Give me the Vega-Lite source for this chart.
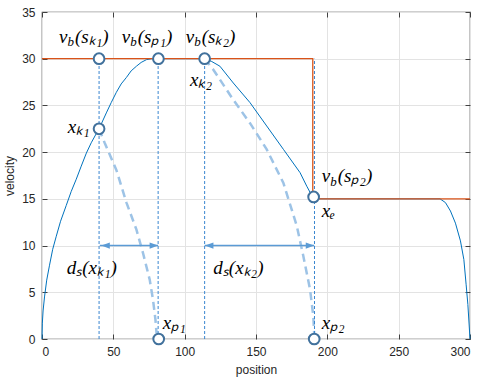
{
  "$schema": "https://vega.github.io/schema/vega-lite/v6.json",
  "autosize": "none",
  "width": 428,
  "height": 327,
  "padding": {"left": 42, "top": 12, "right": 17, "bottom": 44},
  "background": "white",
  "config": {
    "view": {"stroke": "#404040", "strokeWidth": 1.2},
    "axis": {
      "labelFont": "Liberation Sans", "labelFontSize": 12, "labelColor": "#262626",
      "titleFont": "Liberation Sans", "titleFontSize": 12, "titleFontWeight": "normal", "titleColor": "#262626",
      "tickColor": "#404040", "tickSize": -5, "domain": false,
      "gridColor": "#e3e3e3", "gridWidth": 1
    }
  },
  "datasets": {
    "curve": [
      {"i": 0, "x": 0, "v": 0}, {"i": 1, "x": 0.25, "v": 1.7}, {"i": 2, "x": 0.75, "v": 3.0},
      {"i": 3, "x": 1.76, "v": 4.5}, {"i": 4, "x": 3.3, "v": 6.3}, {"i": 5, "x": 5.27, "v": 7.9},
      {"i": 6, "x": 7.5, "v": 9.6}, {"i": 7, "x": 10, "v": 11.0}, {"i": 8, "x": 13, "v": 12.6},
      {"i": 9, "x": 17, "v": 14.3}, {"i": 10, "x": 20.5, "v": 15.8}, {"i": 11, "x": 24, "v": 17.1},
      {"i": 12, "x": 27.5, "v": 18.5}, {"i": 13, "x": 31.1, "v": 19.9}, {"i": 14, "x": 34.5, "v": 21.0},
      {"i": 15, "x": 38.1, "v": 22.0}, {"i": 16, "x": 41.5, "v": 23.0}, {"i": 17, "x": 45.1, "v": 24.2},
      {"i": 18, "x": 48.5, "v": 25.3}, {"i": 19, "x": 52.1, "v": 26.4}, {"i": 20, "x": 55.5, "v": 27.3},
      {"i": 21, "x": 59.2, "v": 28.0}, {"i": 22, "x": 62.5, "v": 28.7}, {"i": 23, "x": 66.2, "v": 29.2},
      {"i": 24, "x": 69.5, "v": 29.6}, {"i": 25, "x": 73.2, "v": 29.9}, {"i": 26, "x": 77, "v": 30.0},
      {"i": 27, "x": 80.2, "v": 30.0}, {"i": 28, "x": 114, "v": 30.0}, {"i": 29, "x": 119, "v": 29.7},
      {"i": 30, "x": 124.7, "v": 29.2}, {"i": 31, "x": 134.1, "v": 27.4}, {"i": 32, "x": 145.8, "v": 25.3},
      {"i": 33, "x": 157.5, "v": 22.8}, {"i": 34, "x": 169.2, "v": 20.3}, {"i": 35, "x": 180.9, "v": 17.8},
      {"i": 36, "x": 185.6, "v": 16.35}, {"i": 37, "x": 189.3, "v": 15.3}, {"i": 38, "x": 190.4, "v": 15.0},
      {"i": 39, "x": 279, "v": 15.0}, {"i": 40, "x": 282.8, "v": 14.6}, {"i": 41, "x": 286.3, "v": 13.7},
      {"i": 42, "x": 289.8, "v": 12.4}, {"i": 43, "x": 293.3, "v": 10.5}, {"i": 44, "x": 295.7, "v": 8.5},
      {"i": 45, "x": 297.3, "v": 5.8}, {"i": 46, "x": 298.5, "v": 3.7}, {"i": 47, "x": 299.4, "v": 1.5},
      {"i": 48, "x": 300, "v": 0}
    ],
    "limit": [
      {"i": 0, "x": 0, "v": 30}, {"i": 1, "x": 189.8, "v": 30},
      {"i": 2, "x": 189.8, "v": 15}, {"i": 3, "x": 300, "v": 15}
    ],
    "brake": [
      {"seg": "a", "i": 0, "x": 40, "v": 22.5}, {"seg": "a", "i": 1, "x": 43.9, "v": 21.0},
      {"seg": "a", "i": 2, "x": 52.1, "v": 18.1}, {"seg": "a", "i": 3, "x": 59.2, "v": 14.6},
      {"seg": "a", "i": 4, "x": 66.2, "v": 11.7}, {"seg": "a", "i": 5, "x": 70.8, "v": 9.2},
      {"seg": "a", "i": 6, "x": 75.5, "v": 6.35}, {"seg": "a", "i": 7, "x": 77.8, "v": 4.2},
      {"seg": "a", "i": 8, "x": 79.5, "v": 2.1}, {"seg": "a", "i": 9, "x": 80.3, "v": 0.6},
      {"seg": "b", "i": 0, "x": 114, "v": 30}, {"seg": "b", "i": 1, "x": 120, "v": 28.85},
      {"seg": "b", "i": 2, "x": 134.1, "v": 25.6}, {"seg": "b", "i": 3, "x": 145.8, "v": 23.1},
      {"seg": "b", "i": 4, "x": 157.5, "v": 20.3}, {"seg": "b", "i": 5, "x": 169.2, "v": 16.7},
      {"seg": "b", "i": 6, "x": 178.6, "v": 12.1}, {"seg": "b", "i": 7, "x": 183.2, "v": 8.85},
      {"seg": "b", "i": 8, "x": 187.9, "v": 5.3}, {"seg": "b", "i": 9, "x": 190.2, "v": 2.4},
      {"seg": "b", "i": 10, "x": 190.8, "v": 0.5}
    ],
    "vlines": [
      {"x": 40, "v": 0, "v2": 30}, {"x": 81.4, "v": 0, "v2": 30},
      {"x": 114, "v": 0, "v2": 30}, {"x": 191, "v": 0, "v2": 30}
    ],
    "arrows": [
      {"x": 40.5, "x2": 81.4, "v": 10}, {"x": 114, "x2": 190.8, "v": 10}
    ],
    "heads": [
      {"x": 41.6, "v": 10, "dir": "left"}, {"x": 81.4, "v": 10, "dir": "right"},
      {"x": 114.2, "v": 10, "dir": "left"}, {"x": 190.8, "v": 10, "dir": "right"}
    ],
    "circles": [
      {"x": 40, "v": 30}, {"x": 81.6, "v": 30}, {"x": 114, "v": 30}, {"x": 40, "v": 22.5},
      {"x": 190.4, "v": 15.2}, {"x": 81.8, "v": 0}, {"x": 190.8, "v": 0}
    ],
    "vb": [
      {"x": 11.9, "v": 31.7, "rest": "(sₖ₁)"},
      {"x": 55.9, "v": 31.7, "rest": "(sₚ₁)"},
      {"x": 100.7, "v": 31.7, "rest": "(sₖ₂)"},
      {"x": 196.0, "v": 16.8, "rest": "(sₚ₂)"}
    ],
    "math": [
      {"x": 103.7, "v": 27.1, "t": "xₖ₂"},
      {"x": 18.0, "v": 22.1, "t": "xₖ₁"},
      {"x": 196.0, "v": 13.1, "t": "xₑ"},
      {"x": 17.3, "v": 7.0, "t": "dₛ(xₖ₁)"},
      {"x": 120.1, "v": 7.0, "t": "dₛ(xₖ₂)"},
      {"x": 84.6, "v": 1.04, "t": "xₚ₁"},
      {"x": 196.0, "v": 1.04, "t": "xₚ₂"}
    ]
  },
  "layer": [
    {
      "data": {"name": "curve"},
      "mark": {"type": "line", "color": "#0072BD", "strokeWidth": 1},
      "encoding": {
        "x": {"field": "x", "type": "quantitative", "scale": {"domain": [0, 300], "nice": false},
              "axis": {"orient": "bottom", "title": "position", "values": [0, 50, 100, 150, 200, 250, 300], "grid": true, "labelPadding": 12, "titlePadding": 7}},
        "y": {"field": "v", "type": "quantitative", "scale": {"domain": [0, 35], "nice": false},
              "axis": {"orient": "left", "title": "velocity", "values": [0, 5, 10, 15, 20, 25, 30, 35], "grid": true, "labelPadding": 12, "titlePadding": 5}},
        "order": {"field": "i", "type": "quantitative"}
      }
    },
    {
      "data": {"name": "limit"},
      "mark": {"type": "line", "color": "#D95319", "strokeWidth": 1.3},
      "encoding": {
        "x": {"field": "x", "type": "quantitative",
              "axis": {"orient": "top", "title": null, "labels": false, "grid": false, "values": [0, 50, 100, 150, 200, 250, 300]}},
        "y": {"field": "v", "type": "quantitative",
              "axis": {"orient": "right", "title": null, "labels": false, "grid": false, "values": [0, 5, 10, 15, 20, 25, 30, 35]}},
        "order": {"field": "i", "type": "quantitative"}
      }
    },
    {
      "data": {"name": "brake"},
      "mark": {"type": "line", "color": "#9DC3E6", "strokeWidth": 2.5, "strokeDash": [8, 5]},
      "encoding": {
        "x": {"field": "x", "type": "quantitative", "axis": null},
        "y": {"field": "v", "type": "quantitative", "axis": null},
        "detail": {"field": "seg"},
        "order": {"field": "i", "type": "quantitative"}
      }
    },
    {
      "data": {"name": "vlines"},
      "mark": {"type": "rule", "color": "#3A86D0", "strokeWidth": 1, "strokeDash": [3, 2]},
      "encoding": {
        "x": {"field": "x", "type": "quantitative", "axis": null},
        "y": {"field": "v", "type": "quantitative", "axis": null},
        "y2": {"field": "v2"}
      }
    },
    {
      "data": {"name": "arrows"},
      "mark": {"type": "rule", "color": "#5B9BD5", "strokeWidth": 1.5},
      "encoding": {
        "x": {"field": "x", "type": "quantitative", "axis": null},
        "x2": {"field": "x2"},
        "y": {"field": "v", "type": "quantitative", "axis": null}
      }
    },
    {
      "data": {"name": "heads"},
      "mark": {"type": "point", "filled": true, "color": "#5B9BD5", "opacity": 1, "size": 72},
      "encoding": {
        "x": {"field": "x", "type": "quantitative", "axis": null},
        "y": {"field": "v", "type": "quantitative", "axis": null},
        "shape": {"field": "dir", "type": "nominal", "legend": null,
                  "scale": {"domain": ["left", "right"], "range": ["M0,0L2,-0.75L2,0.75Z", "M0,0L-2,-0.75L-2,0.75Z"]}}
      }
    },
    {
      "data": {"name": "circles"},
      "mark": {"type": "point", "shape": "circle", "filled": false, "fill": "white", "fillOpacity": 1, "stroke": "#41719C", "strokeWidth": 2, "opacity": 1, "size": 115},
      "encoding": {
        "x": {"field": "x", "type": "quantitative", "axis": null},
        "y": {"field": "v", "type": "quantitative", "axis": null}
      }
    },
    {
      "data": {"name": "vb"},
      "mark": {"type": "text", "text": "v", "font": "Liberation Serif", "fontStyle": "italic", "fontSize": 19, "align": "left", "baseline": "alphabetic", "color": "#000000"},
      "encoding": {
        "x": {"field": "x", "type": "quantitative", "axis": null},
        "y": {"field": "v", "type": "quantitative", "axis": null}
      }
    },
    {
      "data": {"name": "vb"},
      "mark": {"type": "text", "text": "b", "font": "Liberation Serif", "fontStyle": "italic", "fontSize": 13, "align": "left", "baseline": "alphabetic", "dx": 8.5, "dy": 3.5, "color": "#000000"},
      "encoding": {
        "x": {"field": "x", "type": "quantitative", "axis": null},
        "y": {"field": "v", "type": "quantitative", "axis": null}
      }
    },
    {
      "data": {"name": "vb"},
      "mark": {"type": "text", "font": "Liberation Serif", "fontStyle": "italic", "fontSize": 19, "align": "left", "baseline": "alphabetic", "dx": 16, "color": "#000000"},
      "encoding": {
        "x": {"field": "x", "type": "quantitative", "axis": null},
        "y": {"field": "v", "type": "quantitative", "axis": null},
        "text": {"field": "rest"}
      }
    },
    {
      "data": {"name": "math"},
      "mark": {"type": "text", "font": "Liberation Serif", "fontStyle": "italic", "fontSize": 19, "align": "left", "baseline": "alphabetic", "color": "#000000"},
      "encoding": {
        "x": {"field": "x", "type": "quantitative", "axis": null},
        "y": {"field": "v", "type": "quantitative", "axis": null},
        "text": {"field": "t"}
      }
    }
  ]
}
